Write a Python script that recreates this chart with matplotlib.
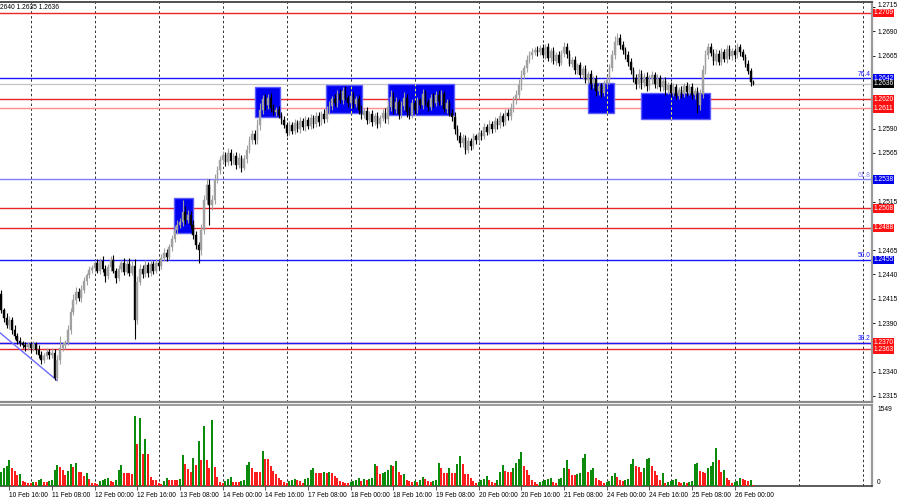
import matplotlib
matplotlib.use("Agg")
import matplotlib.pyplot as plt
from matplotlib.patches import Rectangle
import matplotlib.transforms as mtransforms
import pandas as pd

plt.rcParams['font.family'] = ['Liberation Sans', 'DejaVu Sans']

# ---------------- data (GBPUSD H1) ----------------
first_time = '2025-02-10 13:00'
first_open = 1.2420
closes = [
    # 10 Feb 13:00-23:00
    1.2403, 1.2395, 1.2388, 1.2393, 1.2383, 1.2377, 1.2372, 1.2369, 1.2367, 1.2365, 1.2368,
    # 11 Feb
    1.2364, 1.2368, 1.2362, 1.2357, 1.2352, 1.2356, 1.2360, 1.2357, 1.2359, 1.2334, 1.2352, 1.2364,
    1.2367, 1.2370, 1.2383, 1.2401, 1.2414, 1.2422, 1.2416, 1.2424, 1.2433, 1.2439, 1.2445, 1.2447,
    # 12 Feb
    1.2452, 1.2444, 1.2454, 1.2446, 1.2438, 1.2448, 1.2455, 1.2444, 1.2436, 1.2446, 1.2452, 1.2443,
    1.2451, 1.2442, 1.2449, 1.2393, 1.2432, 1.2446, 1.2440, 1.2450, 1.2441, 1.2451, 1.2444, 1.2452,
    # 13 Feb
    1.2449, 1.2457, 1.2462, 1.2458, 1.2468, 1.2476, 1.2486, 1.2491, 1.2494, 1.2504, 1.2496, 1.2501,
    1.2491, 1.2481, 1.2470, 1.2465, 1.2486, 1.2517, 1.2532, 1.2511, 1.2517, 1.2537, 1.2547, 1.2558,
    # 14 Feb
    1.2563, 1.2556, 1.2565, 1.2557, 1.2562, 1.2553, 1.2560, 1.2550, 1.2559, 1.2568, 1.2578, 1.2584,
    1.2578, 1.2594, 1.2609, 1.2620, 1.2614, 1.2622, 1.2611, 1.2607, 1.2609, 1.2604, 1.2599, 1.2594,
    # 17 Feb
    1.2586, 1.2594, 1.2588, 1.2596, 1.2590, 1.2598, 1.2592, 1.2599, 1.2593, 1.2601, 1.2595, 1.2603,
    1.2597, 1.2605, 1.2600, 1.2609, 1.2613, 1.2620, 1.2616, 1.2626, 1.2619, 1.2629, 1.2622, 1.2616,
    # 18 Feb
    1.2624, 1.2615, 1.2621, 1.2609, 1.2604, 1.2608, 1.2599, 1.2605, 1.2597, 1.2603, 1.2595, 1.2601,
    1.2606, 1.2600, 1.2612, 1.2623, 1.2610, 1.2617, 1.2605, 1.2613, 1.2622, 1.2607, 1.2604, 1.2616,
    # 19 Feb
    1.2609, 1.2619, 1.2614, 1.2626, 1.2617, 1.2612, 1.2622, 1.2616, 1.2625, 1.2618, 1.2626, 1.2610,
    1.2616, 1.2606, 1.2602, 1.2590, 1.2582, 1.2575, 1.2580, 1.2568, 1.2577, 1.2572, 1.2582, 1.2578,
    # 20 Feb
    1.2586, 1.2582, 1.2592, 1.2587, 1.2595, 1.2590, 1.2598, 1.2594, 1.2603, 1.2597, 1.2606, 1.2603,
    1.2611, 1.2620, 1.2625, 1.2635, 1.2645, 1.2652, 1.2661, 1.2666, 1.2669, 1.2671, 1.2669, 1.2673,
    # 21 Feb
    1.2666, 1.2674, 1.2663, 1.2670, 1.2660, 1.2666, 1.2658, 1.2668, 1.2674, 1.2667, 1.2657, 1.2661,
    1.2650, 1.2655, 1.2645, 1.2651, 1.2640, 1.2646, 1.2636, 1.2641, 1.2629, 1.2634, 1.2627, 1.2636,
    # 24 Feb
    1.2640, 1.2652, 1.2666, 1.2679, 1.2683, 1.2676, 1.2671, 1.2666, 1.2659, 1.2650, 1.2642, 1.2636,
    1.2646, 1.2637, 1.2643, 1.2634, 1.2641, 1.2645, 1.2636, 1.2642, 1.2633, 1.2639, 1.2630, 1.2635,
    # 25 Feb
    1.2627, 1.2633, 1.2624, 1.2630, 1.2626, 1.2634, 1.2628, 1.2633, 1.2625, 1.2629, 1.2614, 1.2626,
    1.2650, 1.2666, 1.2674, 1.2668, 1.2660, 1.2667, 1.2659, 1.2669, 1.2662, 1.2672, 1.2665, 1.2670,
    # 26 Feb
    1.2666, 1.2674, 1.2669, 1.2664, 1.2657, 1.2649, 1.2638, 1.2636,
]
# upper / lower shadows, in pips
upper_wick = [
    4, 3, 5, 4, 3, 5, 3, 4, 3, 4, 3,
    3, 4, 3, 5, 4, 3, 4, 3, 5, 4, 5, 13, 4, 3, 5, 4, 6, 5, 4, 5, 4, 3, 4, 3,
    3, 4, 3, 5, 4, 3, 4, 5, 3, 4, 3, 5, 4, 6, 5, 7, 6, 5, 4, 5, 3, 4, 3, 4,
    3, 4, 5, 4, 3, 5, 4, 5, 4, 13, 6, 5, 4, 5, 4, 3, 6, 5, 7, 6, 5, 6, 5, 4,
    4, 3, 5, 4, 3, 4, 5, 3, 4, 5, 4, 5, 5, 6, 7, 5, 6, 4, 5, 4, 3, 4, 3, 4,
    3, 4, 3, 4, 3, 4, 3, 4, 3, 4, 3, 4, 4, 3, 5, 4, 5, 4, 6, 4, 5, 4, 5, 3,
    3, 4, 3, 4, 5, 3, 4, 3, 4, 3, 4, 3, 4, 5, 6, 7, 5, 6, 4, 5, 6, 4, 5, 4,
    3, 4, 3, 5, 4, 3, 4, 5, 4, 5, 4, 3, 4, 3, 4, 5, 4, 5, 4, 3, 4, 3, 4, 3,
    3, 3, 4, 3, 4, 3, 4, 3, 4, 3, 4, 4, 5, 4, 5, 6, 5, 4, 5, 4, 4, 3, 4, 3,
    4, 3, 4, 3, 4, 3, 4, 3, 5, 4, 4, 3, 4, 3, 4, 3, 4, 3, 4, 3, 4, 3, 3, 4,
    4, 5, 5, 6, 5, 4, 4, 3, 4, 4, 3, 4, 5, 4, 4, 5, 4, 4, 3, 4, 3, 3, 4, 3,
    3, 4, 3, 3, 4, 3, 4, 3, 4, 3, 4, 5, 6, 5, 4, 4, 4, 5, 4, 4, 3, 4, 4, 3,
    3, 4, 3, 3, 3, 4, 3, 2,
]
lower_wick = [
    3, 4, 3, 4, 4, 3, 4, 3, 3, 4, 3,
    4, 3, 4, 3, 4, 3, 3, 4, 3, 3, 4, 4, 3, 4, 3, 4, 3, 4, 3, 4, 3, 4, 3, 3,
    4, 3, 4, 3, 6, 3, 4, 3, 5, 3, 3, 4, 3, 4, 3, 19, 4, 3, 4, 3, 4, 3, 4, 3,
    4, 3, 3, 4, 3, 4, 3, 4, 3, 4, 4, 3, 4, 5, 4, 13, 5, 4, 4, 20, 5, 4, 3, 4,
    3, 4, 3, 4, 3, 4, 3, 5, 3, 4, 3, 4, 4, 4, 5, 4, 5, 4, 4, 3, 4, 3, 4, 3,
    4, 3, 4, 3, 3, 4, 3, 4, 3, 3, 4, 3, 4, 3, 4, 3, 4, 4, 3, 4, 3, 4, 3, 4,
    3, 4, 3, 4, 4, 3, 4, 3, 4, 3, 4, 3, 3, 4, 5, 4, 5, 4, 5, 4, 4, 5, 4, 3,
    4, 3, 3, 4, 3, 4, 3, 4, 3, 4, 4, 3, 4, 3, 4, 5, 4, 4, 4, 4, 3, 4, 3, 4,
    3, 4, 3, 4, 3, 4, 3, 4, 3, 4, 3, 4, 4, 4, 5, 4, 5, 4, 4, 3, 4, 3, 4, 3,
    3, 4, 3, 4, 3, 4, 4, 3, 4, 4, 3, 4, 4, 4, 3, 4, 3, 4, 5, 4, 5, 4, 4, 3,
    4, 4, 3, 4, 3, 4, 4, 4, 5, 4, 4, 5, 4, 6, 4, 5, 4, 5, 4, 5, 4, 4, 5, 4,
    4, 3, 4, 3, 4, 3, 4, 3, 4, 5, 8, 5, 4, 4, 4, 3, 4, 4, 3, 4, 3, 4, 3, 4,
    4, 3, 4, 3, 4, 3, 4, 1,
]
volumes = [
    272, 349, 388, 504, 349, 291, 213, 233, 97, 78, 58,
    58, 78, 78, 116, 136, 78, 78, 97, 116, 310, 407, 369,
    310, 213, 291, 427, 369, 446, 272, 272, 194, 252, 136, 58,
    58, 39, 97, 116, 136, 155, 97, 78, 116, 310, 407, 252,
    252, 252, 233, 1358, 815, 1319, 621, 912, 621, 175, 116, 116,
    58, 39, 97, 155, 116, 116, 116, 116, 136, 601, 427, 330,
    272, 543, 407, 873, 504, 1164, 504, 349, 1280, 369, 175, 78,
    58, 97, 136, 175, 78, 78, 78, 97, 116, 407, 466, 349,
    272, 272, 272, 679, 524, 524, 388, 291, 233, 155, 116, 78,
    58, 97, 116, 136, 116, 97, 58, 136, 155, 310, 349, 252,
    252, 252, 272, 252, 272, 252, 194, 155, 97, 78, 58, 58,
    78, 97, 116, 155, 97, 136, 116, 136, 155, 427, 388, 233,
    252, 272, 310, 407, 388, 485, 272, 213, 233, 116, 97, 78,
    97, 78, 116, 175, 136, 97, 78, 97, 116, 446, 349, 252,
    252, 349, 252, 252, 427, 582, 427, 233, 233, 155, 97, 58,
    78, 116, 136, 194, 116, 78, 58, 116, 272, 407, 291, 272,
    272, 349, 446, 524, 660, 388, 310, 213, 116, 78, 39, 78,
    97, 116, 136, 155, 78, 58, 136, 155, 349, 504, 330, 213,
    213, 233, 252, 543, 621, 272, 310, 349, 155, 116, 97, 58,
    78, 97, 194, 252, 175, 116, 97, 116, 136, 427, 524, 388,
    369, 272, 349, 524, 543, 388, 291, 213, 116, 252, 58, 78,
    97, 116, 136, 78, 58, 78, 58, 78, 97, 427, 446, 291,
    272, 252, 349, 388, 466, 737, 504, 272, 310, 155, 116, 58,
    78, 97, 155, 136, 116, 97, 116, 19,
]
volume_max = 1549

red_levels = [1.2709, 1.2620, 1.2611, 1.2508, 1.2488, 1.2370, 1.2363]
fib_levels = [1.2642, 1.2538, 1.2455, 1.2370]
fib_names = ['76.4', '61.8', '50.0', '38.2']
bid_price = 1.2636

# zones (bar index start/end, price low/high)
zone_start = [64.8, 95.1, 121.7, 145.0, 220.0, 239.9]
zone_end = [71.9, 104.5, 135.2, 169.7, 229.7, 265.7]
zone_low = [1.2483, 1.2602, 1.2606, 1.2604, 1.2606, 1.2600]
zone_high = [1.2519, 1.2633, 1.2635, 1.2636, 1.2637, 1.2627]

trend_bars = [-0.49, 20.9]
trend_prices = [1.2380, 1.2331]

price_ticks = [1.2315, 1.2340, 1.2365, 1.2390, 1.2415, 1.2440, 1.2465, 1.2490,
               1.2515, 1.2540, 1.2565, 1.2590, 1.2615, 1.2640, 1.2665, 1.2690, 1.2715]
# tick labels hidden behind the coloured level labels are left blank
price_tick_labels = ['1.2315', '1.2340', '', '1.2390', '1.2415', '1.2440', '1.2465', '',
                     '1.2515', '', '1.2565', '1.2590', '', '', '1.2665', '1.2690', '1.2715']
header_text = '2640 1.2635 1.2636'

# ---------------- derived time axis ----------------
n = min(len(closes), len(upper_wick), len(lower_wick), len(volumes))
allh = pd.date_range(first_time, periods=24 * 20, freq='h')
times = allh[allh.weekday < 5][:330]
opens = [first_open] + closes[:-1]
day_starts = [i for i, t in enumerate(times) if t.hour == 0 and i > 0]

# ---------------- figure ----------------
W, H = 900, 500
FS = 4.8
DASH = (0, (2.5, 2.5))
fig = plt.figure(figsize=(9, 5), dpi=100)
fig.patch.set_facecolor('white')


def fbox(l, t, r, b):
    return [l / W, 1 - b / H, (r - l) / W, (b - t) / H]


ax = fig.add_axes(fbox(0, 2, 872, 402))
axv = fig.add_axes(fbox(0, 405, 872, 486))
XMIN, XMAX = -1.3 / 2.667, (872 - 1.3) / 2.667
for a in (ax, axv):
    a.set_xlim(XMIN, XMAX)
    a.set_facecolor('white')
ax.set_ylim(1.23088, 1.27203)
axv.set_ylim(0, volume_max * 81 / 80)

# vertical day grid
for i in day_starts:
    for a in (ax, axv):
        a.axvline(i, color='#303030', lw=0.7, ls=DASH, zorder=1)

# horizontal levels
for p in red_levels:
    c = '#ff8c8c' if abs(p - 1.2611) < 1e-6 else '#e8262a'
    ax.axhline(p, color=c, lw=1.0, zorder=2)
for p, nm in zip(fib_levels, fib_names):
    c = '#8080ff' if nm == '61.8' else '#1818ff'
    ax.axhline(p, color=c, lw=1.0, zorder=2.1)
    ax.text(XMAX - 0.5, p + 0.00004, nm, color=c, fontsize=FS, ha='right', va='bottom', zorder=3)
ax.axhline(bid_price, color='#c4c4c4', lw=0.9, zorder=2)

# zones (grid dashes show up yellow on top of the filled zones, as in MT4)
for s, e, lo, hi in zip(zone_start, zone_end, zone_low, zone_high):
    ax.add_patch(Rectangle((s, lo), e - s, hi - lo, facecolor='#0000f0',
                           edgecolor='#5c5cff', lw=1.0, zorder=3))
    for i in day_starts:
        if s < i < e:
            ax.vlines(i, lo, hi, color='#ffff40', lw=0.7, ls=DASH, zorder=3.5)

# trend line
ax.plot(trend_bars, trend_prices, color='#6a6aff', lw=1.0, zorder=4)

# candles
for i in range(n):
    o, c = opens[i], closes[i]
    hi = max(o, c) + upper_wick[i] * 0.0001
    lo = min(o, c) - lower_wick[i] * 0.0001
    col = '#a0a0a0' if c >= o else '#000000'
    ax.vlines(i, lo, hi, color=col, lw=0.8, zorder=5)
    body = max(abs(c - o), 0.00003)
    ax.bar(i, body, bottom=min(o, c), width=0.62, color=col, edgecolor=col,
           lw=0.3, zorder=6)

# volumes (MT4 colouring: green when volume rises)
vcols = ['#0b8a0b' if (i == 0 or volumes[i] > volumes[i - 1]) else '#ff1c1c' for i in range(n)]
axv.bar(range(n), volumes[:n], width=0.72, color=vcols, lw=0, zorder=3)

# spines / ticks
for a in (ax, axv):
    a.spines['left'].set_visible(False)
    a.spines['right'].set_color('#9a9a9a')
    a.spines['right'].set_linewidth(1.6)
ax.spines['top'].set_color('#505050')
ax.spines['top'].set_linewidth(1.4)
ax.spines['bottom'].set_color('#8a8a8a')
ax.spines['bottom'].set_linewidth(1.6)
axv.spines['top'].set_color('#8a8a8a')
axv.spines['top'].set_linewidth(1.2)
axv.spines['bottom'].set_color('#404040')
axv.spines['bottom'].set_linewidth(1.2)

ax.set_xticks([])
ax.yaxis.set_ticks_position('right')
ax.set_yticks(price_ticks, labels=price_tick_labels)
ax.tick_params(axis='y', direction='out', length=2.5, width=0.6, labelsize=FS, pad=1.5, colors='black')
top_lab = ax.get_yticklabels()[-1]
top_lab.set_transform(top_lab.get_transform()
                      + mtransforms.ScaledTranslation(0, 1.6 / 72, fig.dpi_scale_trans))
axv.set_yticks([])

label_bars = [i for i in range(3, n, 16)]
axv.set_xticks(label_bars, labels=[''] * len(label_bars))
axv.tick_params(axis='x', direction='out', length=3, width=0.6, color='#404040')
for i in label_bars:
    axv.annotate(times[i].strftime('%d %b %H:%M'), xy=(i, 0), xycoords=('data', 'axes fraction'),
                 xytext=(0, -4.5), textcoords='offset points', fontsize=FS, ha='left', va='top',
                 annotation_clip=False)


# price labels on the axis
def axis_label(p, bg):
    ax.text(1.0015, p, '%.4f' % p, transform=ax.get_yaxis_transform(), color='white',
            fontsize=FS, ha='left', va='center', clip_on=False, zorder=20,
            bbox=dict(boxstyle='square,pad=0.12', fc=bg, ec='none'))


for p in red_levels:
    axis_label(p, '#ff1010')
for p in fib_levels[:3]:
    axis_label(p, '#0000ee')
axis_label(bid_price, '#000000')

axv.text(1.006, 0.94, str(volume_max), transform=axv.transAxes, fontsize=FS, ha='left', va='center',
         clip_on=False)
axv.text(1.006, 0.04, '0', transform=axv.transAxes, fontsize=FS, ha='left', va='center', clip_on=False)

fig.text(0.0, 1 - 7.5 / H, header_text, fontsize=FS, ha='left', va='center')

fig.savefig('out.png', dpi=100, facecolor='white')
